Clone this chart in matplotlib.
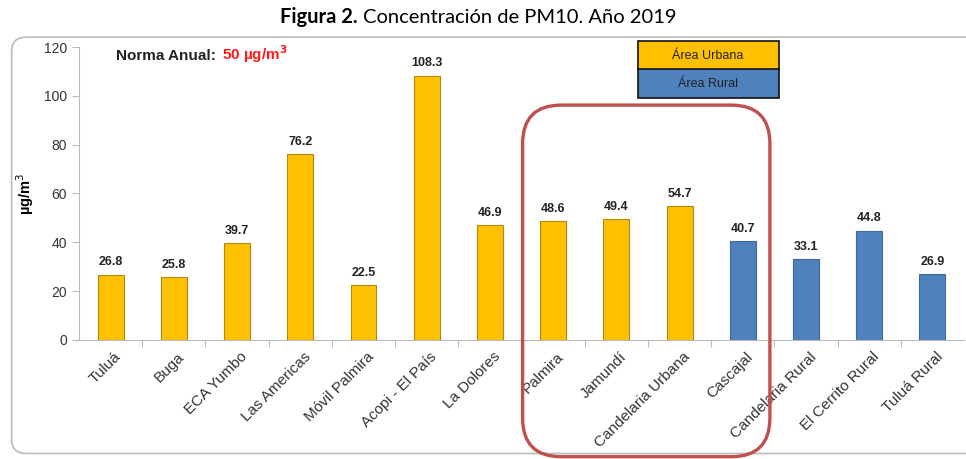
import matplotlib.pyplot as plt
from matplotlib.patches import FancyBboxPatch, Rectangle
import matplotlib.transforms as mtransforms

# PM10 annual means per station, 2019
stations = ['Tuluá', 'Buga', 'ECA Yumbo', 'Las Americas', 'Móvil Palmira',
            'Acopi - El País', 'La Dolores', 'Palmira', 'Jamundí',
            'Candelaria Urbana', 'Cascajal', 'Candelaria Rural',
            'El Cerrito Rural', 'Tuluá Rural']
pm10 = [26.8, 25.8, 39.7, 76.2, 22.5, 108.3, 46.9, 48.6, 49.4, 54.7,
        40.7, 33.1, 44.8, 26.9]
area = ['U', 'U', 'U', 'U', 'U', 'U', 'U', 'U', 'U', 'U',
        'R', 'R', 'R', 'R']
yticks = [0, 20, 40, 60, 80, 100, 120]

yellow = '#FFC000'
blue = '#4F81BD'
plt.rcParams['font.family'] = ['Liberation Sans', 'DejaVu Sans']

fig = plt.figure(figsize=(9.66, 4.59), dpi=100)
ax = fig.add_axes([0.0818, 0.2593, 0.9162, 0.6383])

colors = [yellow if a == 'U' else blue for a in area]
edges = ['#B08A10' if a == 'U' else '#41689A' for a in area]
x = list(range(len(stations)))
ax.bar(x, pm10, width=0.41, color=colors, edgecolor=edges, linewidth=0.8, zorder=2)
for xi, v in zip(x, pm10):
    ax.text(xi, v + 2.5, f'{v:.1f}', ha='center', va='bottom',
            fontsize=9, fontweight='bold', color='#222222')

ax.set_xlim(-0.5, len(stations) - 0.5)
ax.set_ylim(0, 120)
ax.set_yticks(yticks)
ax.tick_params(axis='y', labelsize=10, labelcolor='#333333', length=5, width=0.8,
               color='#BBBBBB')
ax.set_xticks([i + 0.5 for i in x[:-1]], minor=False)
ax.set_xticklabels([])
ax.tick_params(axis='x', length=5, color='#BBBBBB', width=0.8)
ax.set_xticks(x, minor=True)
ax.set_xticklabels(stations, minor=True, rotation=45, ha='right',
                   rotation_mode='anchor', fontsize=11, color='#333333')
ax.tick_params(axis='x', which='minor', length=0, pad=7)
offset = mtransforms.ScaledTranslation(0.03, 0, fig.dpi_scale_trans)
for lab in ax.get_xticklabels(minor=True):
    lab.set_transform(lab.get_transform() + offset)

for s in ['top', 'right']:
    ax.spines[s].set_visible(False)
for s in ['left', 'bottom']:
    ax.spines[s].set_color('#BBBBBB')
    ax.spines[s].set_linewidth(0.8)

ax.set_ylabel('µg/m$^3$', fontsize=10.5, fontweight='bold', labelpad=6)

# norm annotation
fig.text(0.120, 0.870, 'Norma Anual:', fontsize=11, fontweight='bold',
         color='#222222', va='baseline')
fig.text(0.230, 0.870, '50 µg/m$^\\mathbf{3}$', fontsize=11, fontweight='bold',
         color='#FF1A1A', va='baseline')

# legend boxes
for y0, fc, txt in [(0.847, yellow, 'Área Urbana'), (0.786, blue, 'Área Rural')]:
    fig.patches.append(Rectangle((0.660, y0), 0.146, 0.064, transform=fig.transFigure,
                                 facecolor=fc, edgecolor='#111111', linewidth=1.2))
    fig.text(0.733, y0 + 0.032, txt, ha='center', va='center', fontsize=9, color='#222222')

# outer chart frame
fig.patches.append(FancyBboxPatch((0.012, 0.012), 1.05, 0.907, transform=fig.transFigure,
                                  boxstyle='round,pad=0,rounding_size=0.015',
                                  facecolor='none', edgecolor='#BBBBBB', linewidth=1.2,
                                  mutation_aspect=966 / 459))

# highlighted group
fig.patches.append(FancyBboxPatch((0.541, 0.005), 0.256, 0.766, transform=fig.transFigure,
                                  boxstyle='round,pad=0,rounding_size=0.04',
                                  facecolor='none', edgecolor='#C0504D', linewidth=2.4,
                                  mutation_aspect=966 / 459, zorder=5))

# title: bold prefix followed by regular text
fig_t = fig.text(0.290, 0.962, 'Figura 2.', ha='left', va='center', fontsize=14.5,
                 fontweight='bold', family=['Lato', 'DejaVu Sans'])
ax.annotate('Concentración de PM10. Año 2019', xy=(1, 0.5), xycoords=fig_t,
            xytext=(4, 0), textcoords='offset points', ha='left', va='center',
            fontsize=14.5, family=['Lato', 'DejaVu Sans'], annotation_clip=False)

fig.savefig('out.png', dpi=100)
